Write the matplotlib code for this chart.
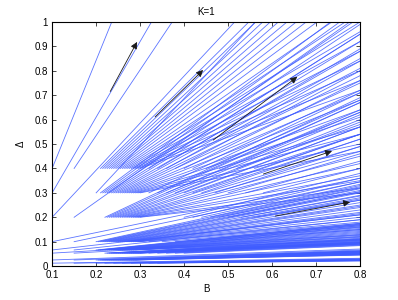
import matplotlib.pyplot as plt

plt.rcParams['font.family'] = ['Liberation Sans', 'DejaVu Sans']

# trajectories: start B values per initial Delta row, and Delta reached at B = 0.8
b_right = 0.8

dash_b = [0.210, 0.215, 0.220, 0.225, 0.230, 0.235, 0.240, 0.245, 0.250, 0.255,
          0.260, 0.265, 0.270, 0.275, 0.280, 0.285, 0.290, 0.295, 0.300]

row40_d = 0.4
row40_b = [0.10, 0.15] + dash_b + [0.32, 0.34, 0.36, 0.38, 0.40, 0.42, 0.45, 0.48, 0.52, 0.56]
row40_end = [3.50, 2.15,
             1.45, 1.41, 1.37, 1.33, 1.29, 1.25, 1.21, 1.17, 1.13, 1.08,
             1.04, 1.00, 0.96, 0.92, 0.88, 0.84, 0.80, 0.76, 0.72,
             0.95, 0.89, 0.84, 0.80, 0.76, 0.72, 0.68, 0.63, 0.58, 0.54]

row30_d = 0.3
row30_b = [0.10, 0.20] + dash_b + [0.32, 0.34, 0.36, 0.38, 0.40, 0.42, 0.44, 0.47, 0.50, 0.54, 0.58]
row30_end = [2.47, 1.46,
             1.09, 1.06, 1.02, 0.99, 0.95, 0.92, 0.88, 0.85, 0.81, 0.78,
             0.75, 0.71, 0.68, 0.64, 0.61, 0.57, 0.54, 0.50, 0.47,
             0.71, 0.67, 0.63, 0.60, 0.57, 0.54, 0.52, 0.49, 0.46, 0.43, 0.40]

row20_d = 0.2
row20_b = [0.10, 0.15] + dash_b[2:] + [0.40, 0.42, 0.44, 0.46, 0.48, 0.50, 0.53, 0.56]
row20_end = [1.55, 1.03,
             0.69, 0.67, 0.64, 0.62, 0.59, 0.57, 0.54, 0.52, 0.49,
             0.47, 0.45, 0.42, 0.40, 0.37, 0.35, 0.32, 0.30,
             0.38, 0.36, 0.345, 0.33, 0.317, 0.304, 0.287, 0.27]

row10_d = 0.1
row10_b = [0.10, 0.15, 0.200, 0.205] + dash_b + [0.32, 0.35, 0.38, 0.42, 0.46]
row10_end = [0.36, 0.345,
             0.335, 0.325, 0.32, 0.31, 0.305, 0.30, 0.29, 0.28, 0.275, 0.27, 0.26,
             0.25, 0.245, 0.24, 0.23, 0.22, 0.215, 0.21, 0.20, 0.19, 0.18,
             0.175, 0.17, 0.165, 0.16, 0.15]

row07_d = 0.066
row07_b = [0.10, 0.15, 0.200, 0.205] + dash_b
row07_end = [0.21, 0.19,
             0.175, 0.172, 0.169, 0.166, 0.162, 0.158, 0.154, 0.150, 0.146, 0.142,
             0.138, 0.134, 0.130, 0.126, 0.122, 0.118, 0.114, 0.110, 0.106]

row05_d = 0.053
row05_b = [0.10, 0.15, 0.32, 0.34, 0.36, 0.38, 0.40] + dash_b[2:]
row05_end = [0.128, 0.120, 0.092, 0.090, 0.088, 0.086, 0.084,
             0.112, 0.110, 0.108, 0.106, 0.104, 0.102, 0.100, 0.099, 0.098,
             0.097, 0.096, 0.095, 0.094, 0.093, 0.092, 0.091, 0.090]

row03_d = 0.025
row03_b = [0.10, 0.15, 0.200, 0.205] + dash_b
row03_end = [0.070, 0.066,
             0.063, 0.062, 0.061, 0.060, 0.059, 0.058, 0.057, 0.056, 0.055, 0.054,
             0.053, 0.052, 0.051, 0.050, 0.049, 0.048, 0.047, 0.046, 0.045]

row01_d = 0.012
row01_b = [0.10, 0.15, 0.20, 0.22, 0.24, 0.26, 0.28, 0.30, 0.32, 0.34]
row01_end = [0.032, 0.030, 0.028, 0.027, 0.026, 0.025, 0.024, 0.023, 0.022, 0.021]

rows = [(row40_d, row40_b, row40_end), (row30_d, row30_b, row30_end),
        (row20_d, row20_b, row20_end), (row10_d, row10_b, row10_end),
        (row07_d, row07_b, row07_end), (row05_d, row05_b, row05_end),
        (row03_d, row03_b, row03_end), (row01_d, row01_b, row01_end)]

# direction arrows (start, tip)
arrow_start = [(0.232, 0.715), (0.334, 0.611), (0.466, 0.516), (0.580, 0.377), (0.607, 0.205)]
arrow_tip = [(0.293, 0.918), (0.443, 0.803), (0.657, 0.775), (0.736, 0.471), (0.777, 0.262)]

fig = plt.figure(figsize=(3.98, 3.0), dpi=100)
ax = fig.add_axes([0.131, 0.113, 0.774, 0.814])

for d0, bs, ends in rows:
    for b0, d1 in zip(bs, ends):
        ax.plot([b0, b_right], [d0, d1], color='#3f5cff', lw=0.6, alpha=0.85)

for s, t in zip(arrow_start, arrow_tip):
    ax.annotate('', xy=t, xytext=s,
                arrowprops=dict(arrowstyle='-|>', color='#1a1a1a', lw=0.6,
                                mutation_scale=10, shrinkA=0, shrinkB=0))

ax.set_xlim(0.1, 0.8)
ax.set_ylim(0, 1)
ax.set_xticks([0.1, 0.2, 0.3, 0.4, 0.5, 0.6, 0.7, 0.8])
ax.set_yticks([0, 0.1, 0.2, 0.3, 0.4, 0.5, 0.6, 0.7, 0.8, 0.9, 1])
ax.set_yticklabels(['0', '0.1', '0.2', '0.3', '0.4', '0.5', '0.6', '0.7', '0.8', '0.9', '1'])
ax.tick_params(direction='in', length=3, width=0.5, labelsize=7, top=True, right=True, pad=3)
for sp in ax.spines.values():
    sp.set_linewidth(0.8)
ax.set_xlabel('B', fontsize=7, labelpad=3)
ax.set_ylabel('Δ', fontsize=7, labelpad=6)
ax.set_title('K=1', fontsize=7, pad=5)

fig.savefig('out.png', dpi=100)
